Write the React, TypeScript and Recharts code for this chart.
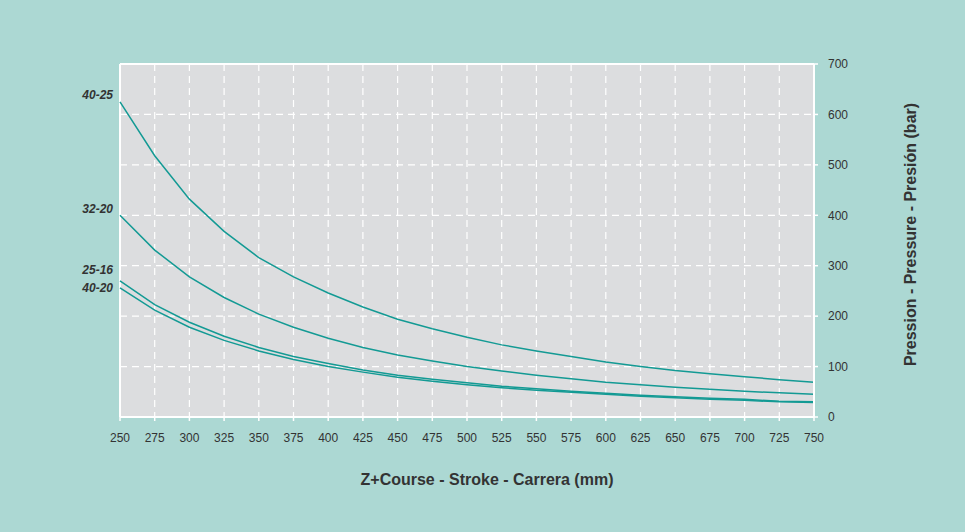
import React from 'react';
import { LineChart, Line, XAxis, YAxis, CartesianGrid, ReferenceLine, Label } from 'recharts';

// stroke lengths (mm)
const strokes = [250, 275, 300, 325, 350, 375, 400, 425, 450, 475, 500, 525, 550, 575, 600, 625, 650, 675, 700, 725, 750];
const pressureTicks = [0, 100, 200, 300, 400, 500, 600, 700];

// pressure read per stroke (bar)
const p4025 = [625, 518, 432, 368, 316, 278, 246, 218, 194, 175, 158, 143, 131, 120, 109, 100, 92, 86, 80, 74, 69];
const p3220 = [400, 331, 278, 237, 204, 178, 156, 138, 123, 111, 100, 91, 83, 76, 69, 64, 59, 55, 51, 48, 45];
const p2516 = [270, 223, 188, 160, 138, 120, 106, 93, 83, 75, 68, 61, 56, 51, 47, 43, 40, 37, 35, 31, 30];
const p4020 = [256, 212, 178, 152, 131, 114, 100, 89, 79, 71, 64, 58, 53, 49, 45, 41, 38, 35, 33, 30, 29];

const series = [
  { key: 'a', name: '40-25', values: p4025, dy: -6 },
  { key: 'b', name: '32-20', values: p3220, dy: -5 },
  { key: 'c', name: '25-16', values: p2516, dy: -10 },
  { key: 'd', name: '40-20', values: p4020, dy: 1 },
];

const data = strokes.map((x, i) => {
  const row: any = { x };
  series.forEach(s => { row[s.key] = s.values[i]; });
  return row;
});

const BG = '#acd8d3';
const PLOT = '#dcdddf';
const LINE = '#139a94';
const TEXT = '#333333';
const FONT = '"Liberation Sans", Arial, sans-serif';

function startLabel(name: string, dy: number) {
  return (props: any) => {
    if (props.index !== 0) return null;
    return (
      <text x={props.x - 7} y={props.y + dy} textAnchor="end" dominantBaseline="middle"
        fontFamily={FONT} fontSize={12} fontWeight="bold" fontStyle="italic" fill={TEXT}>
        {name}
      </text>
    );
  };
}

export default function App() {
  return (
    <div style={{ position: 'absolute', left: 0, top: 0, width: 965, height: 532, background: BG, fontFamily: FONT }}>
      <LineChart width={965} height={532} data={data} margin={{ top: 64, left: 120, right: 71, bottom: 85 }}>
        <CartesianGrid fill={PLOT} stroke="#ffffff" strokeDasharray="7 5" strokeWidth={1.2}
          horizontalValues={pressureTicks} verticalValues={strokes} />
        <XAxis dataKey="x" type="number" domain={[250, 750]} ticks={strokes} interval={0} height={30}
          axisLine={{ stroke: '#ffffff', strokeWidth: 2 }} tickLine={{ stroke: '#ffffff', strokeWidth: 1.5 }} tickSize={4}
          tickMargin={12} tick={{ fontSize: 12, fill: TEXT, fontFamily: FONT }}>
          <Label content={(p: any) => (
            <text x={p.viewBox.x + p.viewBox.width / 2 + 20} y={p.viewBox.y + 68} textAnchor="middle"
              fontFamily={FONT} fontSize={16} fontWeight="bold" fill={TEXT}>
              Z+Course - Stroke - Carrera (mm)
            </text>
          )} />
        </XAxis>
        <YAxis orientation="right" type="number" domain={[0, 700]} ticks={pressureTicks} width={80}
          axisLine={{ stroke: '#ffffff', strokeWidth: 2 }} tickLine={{ stroke: '#ffffff', strokeWidth: 1.5 }} tickSize={4}
          tickMargin={10} tick={{ fontSize: 12, fill: TEXT, fontFamily: FONT, textAnchor: 'start' }}>
          <Label content={(p: any) => {
            const cx = p.viewBox.x + 102;
            const cy = p.viewBox.y + p.viewBox.height / 2 - 6;
            return (
              <text x={cx} y={cy} textAnchor="middle" transform={`rotate(-90 ${cx} ${cy})`}
                fontFamily={FONT} fontSize={16} fontWeight="bold" fill={TEXT}>
                Pression - Pressure - Presión (bar)
              </text>
            );
          }} />
        </YAxis>
        <ReferenceLine y={700} stroke="#ffffff" strokeWidth={2} />
        <ReferenceLine x={250} stroke="#ffffff" strokeWidth={2} />
        {series.map(s => (
          <Line key={s.key} dataKey={s.key} name={s.name} type="linear" stroke={LINE} strokeWidth={1.5}
            dot={false} activeDot={false} isAnimationActive={false} label={startLabel(s.name, s.dy)} />
        ))}
      </LineChart>
    </div>
  );
}
